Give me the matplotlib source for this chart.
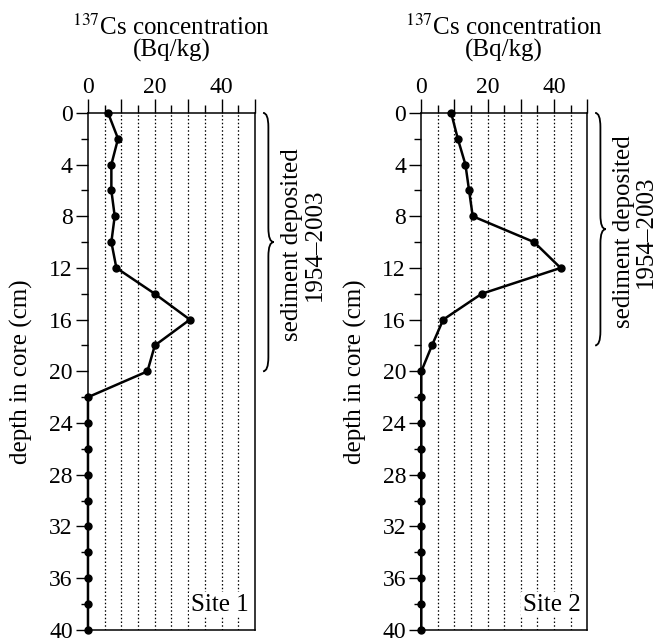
import matplotlib
matplotlib.use("Agg")
import matplotlib.pyplot as plt
from matplotlib.path import Path
import matplotlib.patches as patches
import numpy as np

plt.rcParams["font.family"] = ["Liberation Serif", "DejaVu Serif"]
plt.rcParams["mathtext.fontset"] = "stix"

# ── Data ────────────────────────────────────────────────────────────────────
depth = [0, 2, 4, 6, 8, 10, 12, 14, 16, 18, 20,
         22, 24, 26, 28, 30, 32, 34, 36, 38, 40]
site1_cs = [6, 9, 7, 7, 8, 7, 8.5, 20, 30.5, 20, 17.8,
            0, 0, 0, 0, 0, 0, 0, 0, 0, 0]
site2_cs = [9, 11, 13.3, 14.4, 15.5, 34, 42, 18.2, 6.6, 3.2, 0,
            0, 0, 0, 0, 0, 0, 0, 0, 0, 0]
site_names = ["Site 1", "Site 2"]
brace_spans = [(0, 20), (0, 18)]          # depth (cm) covered by the brace
x_major = [0, 10, 20, 30, 40, 50]
x_labels = ["0", "", "20", "", "40", ""]
y_major = [0, 4, 8, 12, 16, 20, 24, 28, 32, 36, 40]

FS = 17      # tick labels
FT = 18      # other texts


def draw_brace(ax, y0, y1):
    xl, xb, xt = 52.4, 54.0, 55.6
    d = 1.1
    ym = (y0 + y1) / 2
    verts = [(xl, y0), (xb, y0), (xb, y0 + d),
             (xb, ym - d),
             (xb, ym), (xt, ym),
             (xb, ym), (xb, ym + d),
             (xb, y1 - d),
             (xb, y1), (xl, y1)]
    codes = [Path.MOVETO, Path.CURVE3, Path.CURVE3,
             Path.LINETO,
             Path.CURVE3, Path.CURVE3,
             Path.CURVE3, Path.CURVE3,
             Path.LINETO,
             Path.CURVE3, Path.CURVE3]
    ax.add_patch(patches.PathPatch(Path(verts, codes), fill=False,
                                   lw=1.3, color="black", clip_on=False))
    ax.text(64.5, ym + 0.2, "sediment deposited\n1954\u20132003", rotation=90,
            ha="center", va="center", fontsize=FT, multialignment="center",
            linespacing=1.0, clip_on=False)


def draw_site(ax, values, name, span):
    ax.plot(values, depth, color="black", lw=1.8, marker="o", ms=5,
            clip_on=False, zorder=5)
    ax.set_xlim(0, 50)
    ax.set_ylim(40, 0)

    ax.xaxis.tick_top()
    ax.set_xticks(x_major)
    ax.set_xticklabels(x_labels)
    ax.set_xticks(np.arange(5, 50, 10), minor=True)
    ax.tick_params(axis="x", which="major", length=10, width=1, pad=1,
                   labelsize=FS, direction="out")
    ax.tick_params(axis="x", which="minor", length=6, width=1, direction="out")

    ax.set_yticks(y_major)
    ax.set_yticks(np.arange(2, 40, 4), minor=True)
    ax.tick_params(axis="y", which="major", length=9, width=1, pad=2,
                   labelsize=FS, direction="out")
    ax.tick_params(axis="y", which="minor", length=5, width=1, direction="out")

    # dotted verticals every 5 Bq/kg
    for gx in range(5, 50, 5):
        ax.axvline(gx, color="black", lw=0.9, ls=(0, (1.2, 1.8)), zorder=1)

    for s in ax.spines.values():
        s.set_linewidth(1.1)

    ax.set_ylabel("depth in core (cm)", fontsize=FT)
    ax.yaxis.set_label_coords(-0.33, 0.5)

    ax.text(0.5, 1.15, "$^{137}$Cs concentration", transform=ax.transAxes,
            ha="center", va="baseline", fontsize=FT)
    ax.text(0.5, 1.108, "(Bq/kg)", transform=ax.transAxes,
            ha="center", va="baseline", fontsize=FT)

    ax.text(0.96, 0.027, name, transform=ax.transAxes, ha="right",
            va="bottom", fontsize=FT, zorder=6,
            bbox=dict(facecolor="white", edgecolor="none", pad=1))

    draw_brace(ax, *span)


fig = plt.figure(figsize=(6.66, 6.43), dpi=100)
ax1 = fig.add_axes([0.1321, 0.0205, 0.2508, 0.8040])
ax2 = fig.add_axes([0.6326, 0.0205, 0.2490, 0.8040])

draw_site(ax1, site1_cs, site_names[0], brace_spans[0])
draw_site(ax2, site2_cs, site_names[1], brace_spans[1])

fig.savefig("out.png", dpi=100)
